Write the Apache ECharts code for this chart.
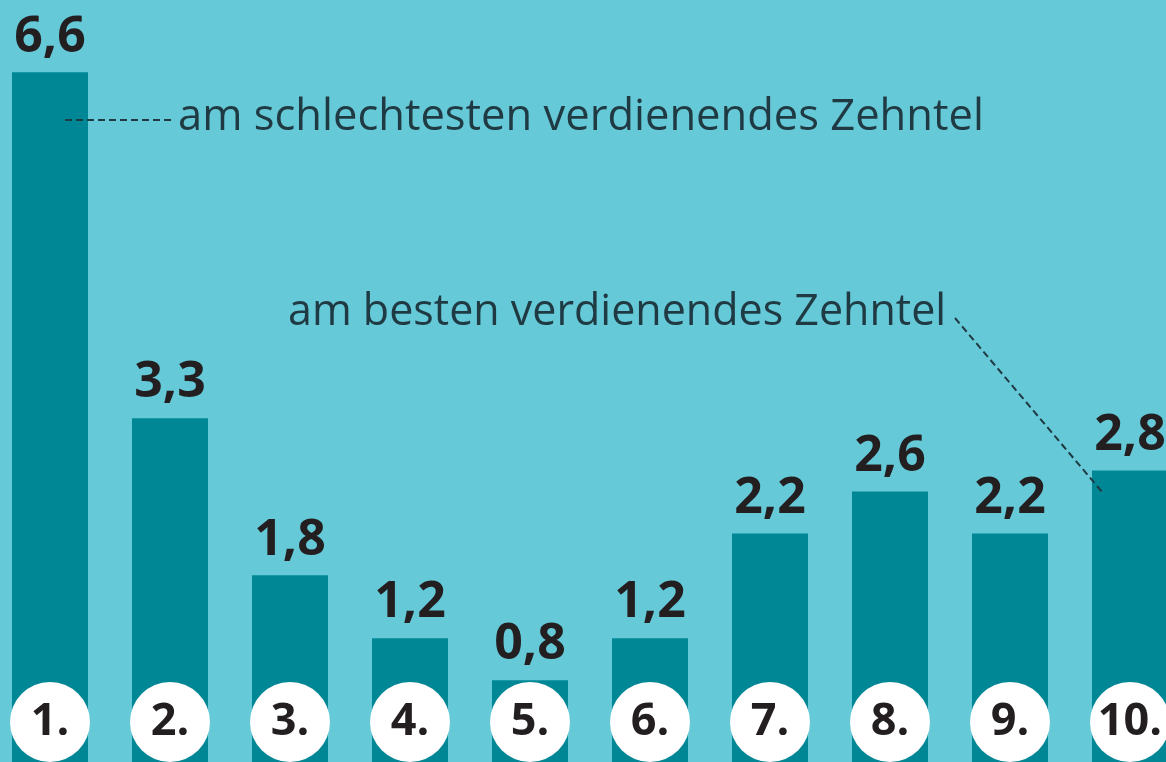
<!DOCTYPE html>
<html>
<head>
<meta charset="utf-8">
<script src="https://cdn.jsdelivr.net/npm/echarts@6/dist/echarts.min.js"></script>
<style>
html,body{margin:0;padding:0;background:#66c9d8;}
#chart{width:1166px;height:762px;}
</style>
</head>
<body>
<div id="chart"></div>
<script>
const categories = ['1.', '2.', '3.', '4.', '5.', '6.', '7.', '8.', '9.', '10.'];
const values = [6.6, 3.3, 1.8, 1.2, 0.8, 1.2, 2.2, 2.6, 2.2, 2.8];
const noteWorst = 'am schlechtesten verdienendes Zehntel';
const noteBest = 'am besten verdienendes Zehntel';

const chart = echarts.init(document.getElementById('chart'));
const ink = '#1f3a42';
chart.setOption({
  backgroundColor: '#66c9d8',
  animation: false,
  grid: { left: 50, right: 36, top: 0, bottom: -2, containLabel: false, outerBoundsMode: 'none' },
  xAxis: {
    type: 'category',
    data: categories,
    boundaryGap: false,
    z: 10,
    axisLine: { show: false },
    axisTick: { show: false },
    axisLabel: {
      inside: true,
      interval: 0,
      margin: 2,
      formatter: v => '{c|' + v + '}',
      rich: {
        c: {
          backgroundColor: '#ffffff',
          borderRadius: 40,
          width: 80,
          height: 80,
          lineHeight: 80,
          align: 'center',
          fontSize: 45,
          fontWeight: 'bold',
          fontFamily: 'Open Sans',
          color: '#231f20'
        }
      }
    }
  },
  yAxis: { type: 'value', min: 0, max: 7.29, show: false },
  series: [{
    type: 'bar',
    data: values,
    barWidth: 76,
    itemStyle: { color: '#008796' },
    label: {
      show: true,
      position: 'top',
      distance: 10,
      formatter: p => String(p.value).replace('.', ','),
      fontSize: 50,
      fontWeight: 'bold',
      fontFamily: 'Open Sans',
      color: '#231f20'
    }
  }],
  graphic: [
    { type: 'line', z: 100, shape: { x1: 65, y1: 120, x2: 172, y2: 120 },
      style: { stroke: ink, lineWidth: 2, lineDash: [7, 4] } },
    { type: 'text', z: 100, style: { x: 178, y: 118, text: noteWorst, fontSize: 43.5,
      fontFamily: 'Open Sans', fill: ink, textVerticalAlign: 'middle' } },
    { type: 'line', z: 100, shape: { x1: 955, y1: 318, x2: 1103, y2: 493 },
      style: { stroke: ink, lineWidth: 2, lineDash: [7, 4] } },
    { type: 'text', z: 100, style: { x: 288, y: 313, text: noteBest, fontSize: 43,
      fontFamily: 'Open Sans', fill: ink, textVerticalAlign: 'middle' } }
  ]
});
</script>
</body>
</html>
